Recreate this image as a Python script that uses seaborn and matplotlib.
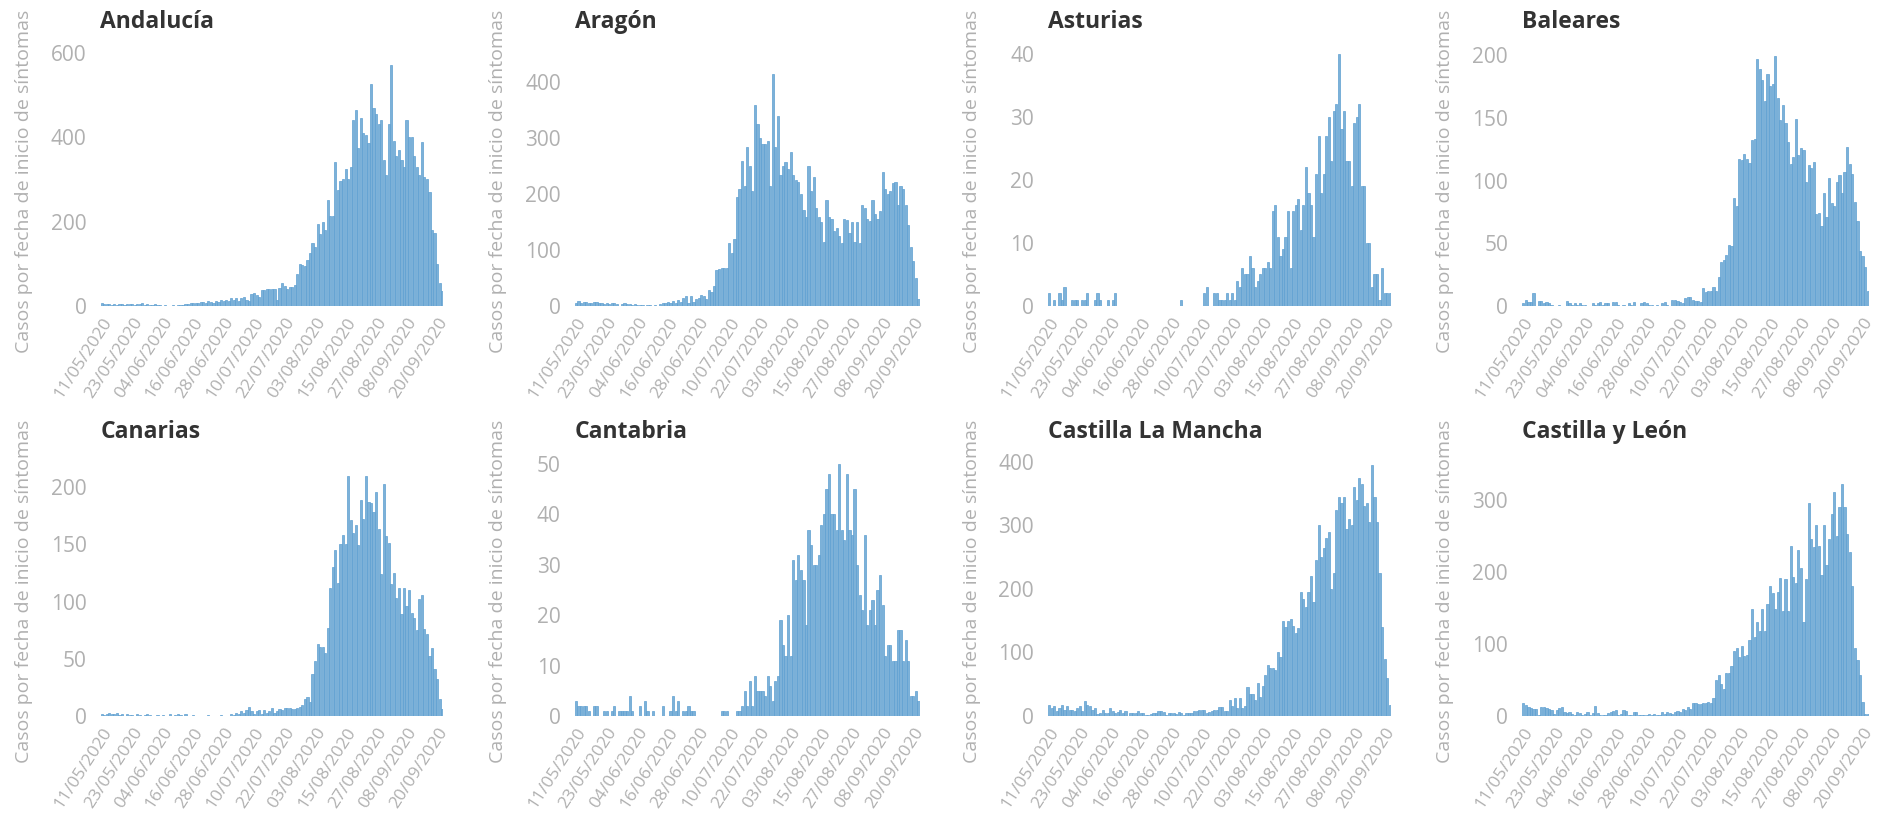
# plot.py
# Casos diarios por fecha de inicio de síntomas, ocho comunidades autónomas

import pandas as pd
import matplotlib
matplotlib.use("Agg")
import matplotlib.pyplot as plt
import seaborn as sns
from matplotlib.ticker import MultipleLocator

START_DATE = "2020-05-11"
N_DAYS = 135

TICK_LABELS = ["11/05/2020", "23/05/2020", "04/06/2020", "16/06/2020",
               "28/06/2020", "10/07/2020", "22/07/2020", "03/08/2020",
               "15/08/2020", "27/08/2020", "08/09/2020", "20/09/2020"]

REGIONS = ["Andalucía", "Aragón", "Asturias", "Baleares",
           "Canarias", "Cantabria", "Castilla La Mancha", "Castilla y León"]

ANDALUCIA = [6, 5, 4, 5, 3, 4, 3, 4, 5, 3, 4, 5,
             4, 3, 5, 4, 6, 3, 5, 2, 3, 4, 2, 3,
             1, 2, 1, 1, 2, 1, 3, 2, 3, 4, 5, 6,
             7, 6, 8, 9, 10, 8, 12, 9, 8, 12, 10, 14,
             12, 15, 13, 18, 14, 20, 12, 18, 22, 15, 12, 28,
             30, 25, 22, 38, 38, 40, 40, 40, 40, 15, 42, 55,
             48, 40, 45, 44, 50, 75, 100, 98, 95, 110, 125, 150,
             140, 195, 170, 200, 180, 250, 213, 212, 340, 275, 295, 300,
             325, 300, 330, 440, 465, 375, 445, 410, 405, 385, 525, 470,
             455, 430, 440, 345, 310, 430, 570, 390, 355, 370, 345, 330,
             440, 400, 400, 355, 330, 310, 388, 305, 300, 270, 180, 172,
             100, 55, 35]

ARAGON = [6, 9, 5, 7, 8, 5, 6, 8, 7, 5, 6, 4,
          5, 4, 5, 6, 3, 0, 4, 6, 3, 4, 2, 3,
          1, 2, 1, 0, 2, 1, 0, 1, 0, 4, 6, 5,
          8, 5, 9, 6, 10, 8, 14, 18, 6, 18, 8, 12,
          15, 20, 18, 12, 28, 25, 35, 65, 66, 68, 68, 68,
          112, 95, 120, 195, 210, 260, 215, 285, 250, 205, 360, 325,
          300, 290, 290, 295, 215, 415, 285, 340, 235, 250, 258, 245,
          275, 235, 225, 222, 200, 172, 160, 250, 205, 230, 175, 160,
          150, 115, 190, 160, 155, 135, 140, 125, 112, 155, 153, 130,
          150, 115, 150, 112, 180, 175, 155, 152, 190, 165, 155, 170,
          240, 210, 200, 205, 220, 222, 180, 215, 210, 180, 145, 105,
          80, 50, 12]

ASTURIAS = [2, 0, 1, 0, 2, 1, 3, 0, 0, 1, 1, 1,
            0, 1, 1, 2, 0, 0, 1, 2, 1, 0, 0, 1,
            0, 1, 2, 0, 0, 0, 0, 0, 0, 0, 0, 0,
            0, 0, 0, 0, 0, 0, 0, 0, 0, 0, 0, 0,
            0, 0, 0, 0, 1, 0, 0, 0, 0, 0, 0, 0,
            0, 2, 3, 0, 0, 2, 2, 1, 1, 1, 2, 1,
            2, 1, 4, 3, 6, 5, 5, 8, 6, 3, 4, 5,
            6, 6, 7, 6, 15, 16, 11, 8, 9, 11, 15, 6,
            15, 16, 17, 12, 16, 22, 18, 16, 11, 21, 27, 18,
            21, 27, 30, 23, 31, 32, 40, 28, 31, 23, 23, 19,
            29, 30, 32, 19, 19, 10, 10, 3, 5, 5, 1, 6,
            2, 2, 2]

BALEARES = [2, 5, 3, 3, 10, 0, 4, 4, 2, 3, 2, 1,
            0, 0, 1, 0, 0, 4, 2, 1, 2, 1, 2, 1,
            1, 0, 0, 2, 1, 2, 3, 1, 2, 2, 0, 3,
            3, 1, 0, 1, 0, 2, 1, 3, 0, 0, 2, 3,
            2, 1, 1, 0, 1, 0, 2, 3, 1, 0, 5, 5,
            4, 3, 2, 6, 7, 7, 5, 4, 4, 3, 14, 11,
            12, 12, 15, 12, 23, 35, 37, 41, 49, 48, 86, 80,
            117, 116, 121, 117, 114, 132, 133, 197, 189, 180, 163, 185,
            175, 177, 199, 166, 148, 160, 146, 131, 113, 119, 149, 120,
            126, 124, 99, 112, 110, 115, 73, 74, 64, 90, 71, 102,
            82, 80, 99, 104, 90, 107, 127, 113, 105, 83, 68, 44,
            40, 31, 12]

CANARIAS = [2, 1, 2, 3, 2, 2, 3, 1, 2, 0, 2, 1,
            1, 0, 2, 1, 0, 1, 2, 1, 0, 0, 1, 0,
            1, 0, 0, 2, 0, 1, 2, 1, 0, 2, 0, 0,
            1, 0, 0, 0, 0, 0, 1, 0, 0, 0, 0, 1,
            0, 0, 0, 2, 1, 3, 2, 4, 3, 5, 8, 4,
            2, 4, 5, 2, 5, 3, 4, 7, 3, 4, 6, 5,
            7, 7, 7, 6, 6, 7, 8, 10, 15, 17, 12, 37,
            48, 63, 60, 60, 55, 77, 112, 130, 145, 116, 150, 158,
            150, 210, 171, 160, 167, 149, 189, 172, 210, 187, 186, 178,
            196, 163, 124, 203, 157, 151, 115, 125, 103, 112, 89, 112,
            96, 110, 90, 86, 75, 102, 106, 76, 72, 52, 59, 41,
            32, 15, 6]

CANTABRIA = [3, 2, 2, 2, 2, 1, 0, 2, 2, 0, 0, 1,
             1, 0, 1, 2, 0, 1, 1, 1, 1, 4, 1, 0,
             0, 2, 0, 3, 1, 0, 1, 0, 0, 0, 2, 0,
             0, 1, 4, 1, 3, 0, 1, 1, 2, 1, 1, 0,
             0, 0, 0, 0, 0, 0, 0, 0, 0, 1, 1, 1,
             0, 0, 0, 1, 1, 2, 5, 2, 7, 2, 8, 5,
             5, 5, 4, 8, 6, 3, 7, 8, 19, 14, 12, 20,
             12, 31, 27, 32, 29, 27, 18, 37, 34, 30, 30, 32,
             38, 40, 45, 48, 40, 40, 37, 50, 37, 35, 48, 37,
             36, 45, 30, 24, 21, 36, 18, 21, 23, 18, 25, 28,
             22, 12, 14, 14, 11, 11, 17, 17, 11, 15, 11, 4,
             4, 5, 3]

CASTILLA_LA_MANCHA = [18, 12, 15, 8, 12, 18, 10, 16, 10, 10, 8, 12,
                      15, 8, 24, 18, 16, 10, 12, 3, 4, 10, 4, 5,
                      12, 8, 4, 6, 10, 5, 8, 0, 5, 5, 4, 8,
                      5, 4, 2, 2, 3, 4, 5, 8, 8, 6, 2, 4,
                      5, 4, 3, 6, 5, 2, 4, 4, 5, 8, 8, 10,
                      10, 10, 5, 6, 8, 10, 10, 14, 14, 8, 8, 25,
                      15, 28, 13, 28, 12, 15, 45, 35, 35, 25, 52, 30,
                      48, 65, 80, 75, 75, 72, 100, 93, 150, 140, 150, 152,
                      142, 130, 138, 195, 185, 172, 195, 220, 180, 245, 300, 250,
                      265, 280, 290, 200, 225, 325, 345, 335, 345, 295, 310, 300,
                      360, 340, 375, 365, 330, 335, 305, 395, 345, 305, 225, 140,
                      90, 60, 18]

CASTILLA_Y_LEON = [18, 15, 13, 11, 10, 10, 2, 13, 12, 11, 10, 8,
                   3, 8, 11, 12, 6, 4, 6, 3, 2, 6, 4, 2,
                   3, 5, 2, 4, 14, 4, 1, 1, 2, 4, 6, 7,
                   8, 2, 3, 8, 7, 2, 2, 5, 5, 2, 2, 2,
                   2, 3, 2, 3, 1, 2, 5, 3, 5, 4, 3, 5,
                   7, 6, 10, 8, 12, 10, 18, 18, 17, 17, 18, 18,
                   20, 18, 25, 50, 57, 45, 38, 60, 60, 69, 90, 95,
                   82, 97, 83, 85, 105, 148, 110, 130, 118, 148, 118, 155,
                   180, 170, 148, 172, 192, 145, 190, 145, 236, 193, 185, 230,
                   205, 130, 190, 295, 245, 235, 265, 236, 196, 265, 210, 245,
                   280, 310, 250, 290, 322, 290, 253, 228, 180, 95, 77, 57,
                   20, 3, 3]

SERIES = [ANDALUCIA, ARAGON, ASTURIAS, BALEARES,
          CANARIAS, CANTABRIA, CASTILLA_LA_MANCHA, CASTILLA_Y_LEON]

# axis scale per panel: (top of y range, tick step)
Y_SCALE = [(618, 200), (467, 100), (41.4, 10), (208, 50),
           (228, 50), (51.8, 10), (411, 100), (362, 100)]

W, H = 1879, 813
COLS = [(100.4, 343), (574.7, 345), (1048, 343), (1522, 347)]
ROWS = [(45, 306), (455, 716)]

BAR = "#7db1d8"
EDGE = "#5e9fd1"
GRAY = "#b0b0b0"
DARK = "#333333"


def plot_region(fig, rect, name, values, fechas, ymax, ystep):
    ax = fig.add_axes(rect)
    df = pd.DataFrame({"fecha": fechas, "casos": values})
    sns.barplot(data=df, x="fecha", y="casos", ax=ax, color=BAR,
                saturation=1, width=0.85, edgecolor=EDGE, linewidth=0.5)
    ax.set_xlim(-0.5, len(values) - 0.5)
    ax.set_ylim(0, ymax)
    ax.yaxis.set_major_locator(MultipleLocator(ystep))

    pos = [fechas.index(t) for t in TICK_LABELS]
    ax.set_xticks(pos)
    ax.set_xticklabels(TICK_LABELS, rotation=57, ha="right",
                       rotation_mode="anchor")
    ax.tick_params(axis="x", length=0, pad=6, labelsize=12.5, labelcolor=GRAY)
    ax.tick_params(axis="y", length=0, pad=10, labelsize=15, labelcolor=GRAY)

    ax.set_xlabel("")
    ax.set_ylabel("Casos por fecha de inicio de síntomas", fontsize=14, color=GRAY)
    ax.yaxis.set_label_coords(-0.196, 0.479)
    ax.set_title(name, loc="left", fontsize=16.5, fontweight="bold",
                 color=DARK, pad=12)
    for s in ax.spines.values():
        s.set_visible(False)
    ax.grid(False)
    return ax


def main():
    sns.set_style("white")
    plt.rcParams["font.family"] = ["Open Sans", "DejaVu Sans"]

    fechas = list(pd.date_range(START_DATE, periods=N_DAYS).strftime("%d/%m/%Y"))

    fig = plt.figure(figsize=(W / 100, H / 100), dpi=100)
    for k, (name, values) in enumerate(zip(REGIONS, SERIES)):
        top, bottom = ROWS[k // 4]
        left, width = COLS[k % 4]
        rect = [left / W, (H - bottom) / H, width / W, (bottom - top) / H]
        ymax, ystep = Y_SCALE[k]
        plot_region(fig, rect, name, values, fechas, ymax, ystep)

    fig.savefig("out.png", dpi=100, facecolor="white")


if __name__ == "__main__":
    main()
